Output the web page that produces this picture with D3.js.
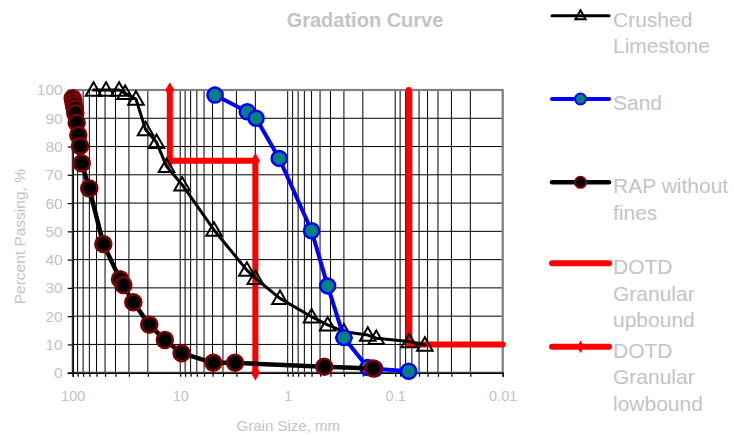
<!DOCTYPE html>
<html>
<head>
<meta charset="utf-8">
<script src="https://cdn.jsdelivr.net/npm/d3@7"></script>
<style>
  html, body { margin: 0; padding: 0; background: #fff; }
  svg { display: block; font-family: Arial, "Liberation Sans", sans-serif; }
</style>
</head>
<body>
<svg id="chart" width="734" height="435"></svg>
<script>
// Sieve analysis: grain size (mm) and percent passing for each material
const crushedSize = [64, 49, 37, 32.5, 25.8, 21, 16.6, 13.4, 9.6, 4.85, 2.4, 2.0, 1.18, 0.6, 0.425, 0.3, 0.18, 0.15, 0.074, 0.053];
const crushedPass = [100, 100, 100, 98.8, 96.8, 86, 81.5, 73, 66.5, 50.5, 36.3, 33.4, 26.3, 19.8, 16.9, 14.5, 13.3, 12.2, 11, 9.8];

const sandSize = [4.75, 2.38, 1.97, 1.2, 0.6, 0.425, 0.3, 0.18, 0.155, 0.075];
const sandPass = [98.2, 92.3, 90, 75.8, 50.2, 30.7, 12.4, 1.8, 1.4, 0.5];

const rapSize = [100, 98.7, 97.3, 95.8, 94.6, 91.8, 88.7, 85.5, 82.4, 70.1, 51.9, 36.3, 33.8, 27.3, 19.4, 13.9, 9.7, 4.92, 3.09, 0.457, 0.16];
const rapPass = [97.1, 95.9, 94.7, 93.5, 91.8, 88.4, 84.1, 80.2, 74.1, 65.2, 45.5, 33.1, 31.0, 24.9, 17.0, 11.6, 6.9, 3.5, 3.5, 2.1, 1.5];

const upSize = [0.075, 0.075, 0.01];
const upPass = [100, 10, 10];

const lowSize = [12.5, 12.5, 2.0, 2.0];
const lowPass = [100, 75, 75, 0];

const xTickLabels = [100, 10, 1, 0.1, 0.01];
const yTickValues = [0, 10, 20, 30, 40, 50, 60, 70, 80, 90, 100];

const legendNames = [
  ["Crushed", "Limestone"],
  ["Sand"],
  ["RAP without", "fines"],
  ["DOTD", "Granular", "upbound"],
  ["DOTD", "Granular", "lowbound"]
];

const titleText = "Gradation Curve";
const xTitle = "Grain Size, mm";
const yTitle = "Percent Passing, %";

// ---- layout ----
const TEXT = "#c4c4c4";
const plotL = 72.7, plotR = 502.7, plotT = 90, plotB = 372.7;

const svg = d3.select("#chart");
const x = d3.scaleLog().domain([100, 0.01]).range([plotL, plotR]);
const y = d3.scaleLinear().domain([0, 100]).range([plotB, plotT]);

const zip = (xs, ys) => xs.map((v, i) => [v, ys[i]]);
const crushed = zip(crushedSize, crushedPass);
const sand = zip(sandSize, sandPass);
const rap = zip(rapSize, rapPass);
const up = zip(upSize, upPass);
const low = zip(lowSize, lowPass);

// grid
const minorTicks = x.ticks();
const grid = svg.append("g");
grid.selectAll("line.v").data(minorTicks).join("line")
  .attr("x1", d => x(d)).attr("x2", d => x(d))
  .attr("y1", plotT).attr("y2", plotB)
  .attr("stroke", "#000").attr("stroke-width", 1);
grid.selectAll("line.h").data(yTickValues).join("line")
  .attr("x1", plotL).attr("x2", plotR)
  .attr("y1", d => y(d)).attr("y2", d => y(d))
  .attr("stroke", "#000").attr("stroke-width", 1);

// plot frame
svg.append("rect")
  .attr("x", plotL).attr("y", plotT)
  .attr("width", plotR - plotL).attr("height", plotB - plotT)
  .attr("fill", "none").attr("stroke", "#808080").attr("stroke-width", 2.2);

// axes
const fmt = d3.format("~g");
const xAxis = d3.axisBottom(x)
  .tickValues(minorTicks)
  .tickSize(4).tickPadding(14)
  .tickFormat(d => xTickLabels.some(t => Math.abs(t - d) < 1e-9) ? fmt(d) : "");
const gx = svg.append("g").attr("transform", `translate(0,${plotB})`).call(xAxis);
gx.select(".domain").attr("stroke", "#000").attr("stroke-width", 1.5);
gx.selectAll(".tick line").attr("stroke", "#000").attr("stroke-width", 1.2);
gx.selectAll(".tick text").attr("fill", TEXT).attr("font-size", 14.5);

const yAxis = d3.axisLeft(y).tickValues(yTickValues).tickSize(5).tickPadding(5);
const gy = svg.append("g").attr("transform", `translate(${plotL},0)`).call(yAxis);
gy.select(".domain").attr("stroke", "#000").attr("stroke-width", 1.5);
gy.selectAll(".tick line").attr("stroke", "#000").attr("stroke-width", 1.2);
gy.selectAll(".tick text").attr("fill", TEXT).attr("font-size", 15.5);

// titles
svg.append("text").attr("x", 365).attr("y", 26.5).attr("text-anchor", "middle")
  .attr("font-size", 20).attr("font-weight", "bold").attr("fill", TEXT).text(titleText);
svg.append("text").attr("x", 288.3).attr("y", 430.5).attr("text-anchor", "middle")
  .attr("font-size", 15).attr("fill", TEXT).text(xTitle);
svg.append("text").attr("transform", "translate(24.5,236.7) rotate(-90)").attr("text-anchor", "middle")
  .attr("font-size", 15.5).attr("fill", TEXT).text(yTitle);

// series
const line = d3.line().x(d => x(d[0])).y(d => y(d[1]));
const tri = d3.symbol(d3.symbolTriangle, 105);
const triSmall = d3.symbol(d3.symbolTriangle, 45);
const diamond = d3.symbol(d3.symbolDiamond, 70);
const diamondSmall = d3.symbol(d3.symbolDiamond, 45);

const series = [
  { data: up,      stroke: "#ff0000", width: 6,   marker: null },
  { data: low,     stroke: "#ff0000", width: 6,   marker: "diamond" },
  { data: crushed, stroke: "#000000", width: 3,   marker: "triangle" },
  { data: sand,    stroke: "#0000ff", width: 4,   marker: "circle", fill: "#008080", mstroke: "#0000ff", r: 7.5 },
  { data: rap,     stroke: "#000000", width: 4.5, marker: "circle", fill: "#000000", mstroke: "#800000", r: 8 }
];

function drawMarkers(g, s, pts, small) {
  if (s.marker === "triangle") {
    g.selectAll("path.m").data(pts).join("path").attr("class", "m")
      .attr("d", small ? triSmall : tri)
      .attr("transform", d => `translate(${d[0]},${d[1] + (small ? 0.5 : 1.2)})`)
      .attr("fill", "none").attr("stroke", "#000").attr("stroke-width", 2);
  } else if (s.marker === "circle") {
    g.selectAll("circle.m").data(pts).join("circle").attr("class", "m")
      .attr("cx", d => d[0]).attr("cy", d => d[1])
      .attr("r", small ? 5.5 : s.r)
      .attr("fill", s.fill).attr("stroke", s.mstroke).attr("stroke-width", small ? 2 : 2.5);
  } else if (s.marker === "diamond") {
    g.selectAll("path.m").data(pts).join("path").attr("class", "m")
      .attr("d", small ? diamondSmall : diamond)
      .attr("transform", d => `translate(${d[0]},${d[1]})`)
      .attr("fill", "#ff0000");
  }
}

series.forEach(s => {
  const g = svg.append("g");
  g.append("path").attr("d", line(s.data))
    .attr("fill", "none").attr("stroke", s.stroke).attr("stroke-width", s.width)
    .attr("stroke-linejoin", "round").attr("stroke-linecap", "round");
  drawMarkers(g, s, s.data.map(d => [x(d[0]), y(d[1])]), false);
});

// legend
const legendOrder = [2, 3, 4, 0, 1];
const legendY = [15.7, 99, 182.3, 263.3, 346.7];
const lx1 = 552, lx2 = 609, lmid = 580.5, ltext = 613;
legendOrder.forEach((si, i) => {
  const s = series[si];
  const g = svg.append("g");
  const ly = legendY[i];
  g.append("line").attr("x1", lx1).attr("x2", lx2).attr("y1", ly).attr("y2", ly)
    .attr("stroke", s.stroke).attr("stroke-width", s.width).attr("stroke-linecap", "round");
  drawMarkers(g, s, [[lmid, ly]], true);
  const t = g.append("text").attr("x", ltext).attr("y", ly + 11)
    .attr("font-size", 21).attr("fill", TEXT);
  legendNames[i].forEach((w, k) => {
    t.append("tspan").attr("x", ltext).attr("dy", k === 0 ? 0 : 26.5).text(w);
  });
});
</script>
</body>
</html>
